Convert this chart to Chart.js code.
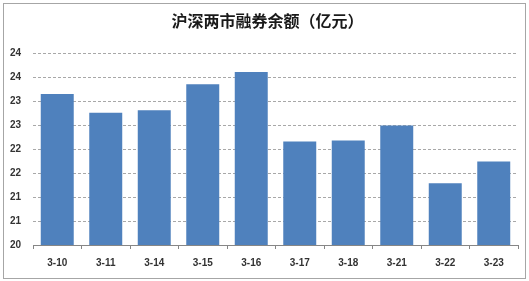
<!DOCTYPE html>
<html>
<head>
<meta charset="utf-8">
<script src="https://cdn.jsdelivr.net/npm/chart.js@4/dist/chart.umd.min.js"></script>
<style>
html,body{margin:0;padding:0;background:#fff;}
#wrap{width:529px;height:281px;position:relative;}
</style>
</head>
<body>
<div id="wrap"><canvas id="c" width="529" height="281"></canvas></div>
<script>
const titleText = '沪深两市融券余额（亿元）';
const categories = ['3-10','3-11','3-14','3-15','3-16','3-17','3-18','3-21','3-22','3-23'];
const values = [23.15, 22.76, 22.81, 23.35, 23.61, 22.16, 22.18, 22.49, 21.29, 21.74];
const yTickValues = [20, 20.5, 21, 21.5, 22, 22.5, 23, 23.5, 24];
const yTickLabels = ['20','21','21','22','22','23','23','24','24'];

const borderPlugin = {
  id: 'outerBorder',
  afterDraw(chart) {
    const ctx = chart.ctx;
    ctx.save();
    ctx.strokeStyle = '#a6a6a6';
    ctx.lineWidth = 1;
    ctx.strokeRect(3.5, 3.5, 522, 275);
    ctx.restore();
  }
};

new Chart(document.getElementById('c'), {
  type: 'bar',
  data: {
    labels: categories,
    datasets: [{
      data: values,
      backgroundColor: '#4F81BD',
      borderWidth: 0,
      categoryPercentage: 1,
      barPercentage: 0.68
    }]
  },
  options: {
    responsive: false,
    animation: false,
    layout: { padding: { top: 11, right: 11, bottom: 4, left: 17 } },
    plugins: {
      legend: { display: false },
      tooltip: { enabled: false },
      title: {
        display: true,
        text: titleText,
        color: '#1a1a1a',
        font: { family: '"Noto Sans CJK SC", "Noto Sans", sans-serif', size: 16, weight: 'bold', lineHeight: 1.2 },
        padding: { top: 0, bottom: 23 }
      }
    },
    scales: {
      x: {
        grid: {
          display: true,
          offset: true,
          drawOnChartArea: false,
          drawTicks: true,
          tickLength: 4,
          color: '#868686'
        },
        border: { display: true, color: '#868686', width: 1 },
        ticks: {
          color: '#333333',
          padding: 8,
          maxRotation: 0,
          font: { family: '"Liberation Sans", Arial, sans-serif', size: 10, weight: 'bold' }
        }
      },
      y: {
        min: 20,
        max: 24,
        afterFit(scale) { scale.width = 16; },
        afterBuildTicks(scale) { scale.ticks = yTickValues.map(v => ({ value: v })); },
        grid: {
          display: true,
          drawTicks: false,
          color: '#a8a8a8',
          lineWidth: 1
        },
        border: { display: true, width: 0, color: 'rgba(0,0,0,0)', dash: [3, 2] },
        ticks: {
          mirror: true,
          crossAlign: 'near',
          color: '#333333',
          padding: -23,
          font: { family: '"Liberation Sans", Arial, sans-serif', size: 10, weight: 'bold' },
          callback: function(value, index) { return yTickLabels[index]; }
        }
      }
    }
  },
  plugins: [borderPlugin]
});
</script>
</body>
</html>
